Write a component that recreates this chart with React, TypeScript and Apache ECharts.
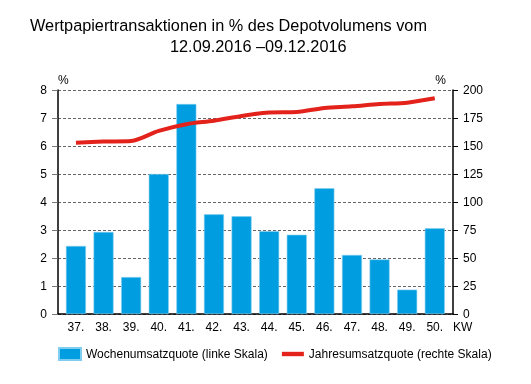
import React, { useEffect, useRef } from "react";
import * as echarts from "echarts";

const weeks = [37, 38, 39, 40, 41, 42, 43, 44, 45, 46, 47, 48, 49, 50];
const weeklyTurnover = [2.43, 2.93, 1.32, 5.0, 7.5, 3.56, 3.49, 2.96, 2.83, 4.49, 2.11, 1.95, 0.87, 3.06];
const annualTurnover = [153, 154, 154.5, 163.5, 169.5, 172.6, 176.8, 180, 180.4, 184, 185.4, 187.5, 188.7, 192.6];
const titleLine1 = "Wertpapiertransaktionen in % des Depotvolumens vom";
const titleLine2 = "12.09.2016 \u201309.12.2016";
const barName = "Wochenumsatzquote (linke Skala)";
const lineName = "Jahresumsatzquote (rechte Skala)";

const FONT = "Liberation Sans, Arial, sans-serif";

export default function App() {
  const ref = useRef<HTMLDivElement>(null);
  useEffect(() => {
    if (!ref.current) return;
    const chart = echarts.init(ref.current, undefined, { renderer: "svg" });
    chart.setOption({
      animation: false,
      textStyle: { fontFamily: FONT, color: "#000" },
      title: [
        { text: titleLine1, left: 30, top: 17, padding: 0, textStyle: { fontSize: 16.3, fontWeight: "normal", color: "#000", fontFamily: FONT } },
        { text: titleLine2, left: 170, top: 38, padding: 0, textStyle: { fontSize: 16.3, fontWeight: "normal", color: "#000", fontFamily: FONT } },
      ],
      legend: {
        left: 58,
        top: 347,
        padding: 0,
        itemWidth: 22,
        itemHeight: 12,
        itemGap: 14,
        textStyle: { fontSize: 12, color: "#000", fontFamily: FONT },
        data: [
          { name: barName, icon: "rect" },
          { name: lineName, icon: "path://M0,0 L20,0 L20,4 L0,4 Z", itemStyle: { color: "#e3231b" } },
        ],
      },
      grid: { left: 58, right: 78, top: 90, bottom: 70 },
      xAxis: {
        type: "value",
        min: 36.35,
        max: 50.66,
        name: "KW",
        nameLocation: "end",
        nameGap: 0,
        nameTextStyle: { fontSize: 12, color: "#000", verticalAlign: "top", padding: [7, 0, 0, 0] },
        axisLine: { show: true, lineStyle: { color: "#000", width: 1.5 } },
        axisTick: { show: false },
        splitLine: { show: false },
        axisLabel: {
          customValues: weeks,
          formatter: (v: number) => `${v}.`,
          fontSize: 12,
          color: "#000",
          margin: 7,
        },
      },
      yAxis: [
        {
          type: "value",
          min: 0,
          max: 8,
          interval: 1,
          name: "%",
          nameLocation: "end",
          nameGap: 4,
          nameTextStyle: { fontSize: 12, color: "#000", align: "left", padding: [0, 0, 0, 0] },
          axisLine: { show: true, lineStyle: { color: "#000", width: 1.5 } },
          axisTick: { show: true, length: 6, lineStyle: { color: "#777" } },
          axisLabel: { fontSize: 12, color: "#000", margin: 11 },
          splitLine: { show: true, lineStyle: { color: "#666", type: [3, 2] } },
        },
        {
          type: "value",
          min: 0,
          max: 200,
          interval: 25,
          position: "right",
          name: "%",
          nameLocation: "end",
          nameGap: 4,
          nameTextStyle: { fontSize: 12, color: "#000", align: "right", padding: [0, 7, 0, 0] },
          axisLine: { show: true, lineStyle: { color: "#000", width: 1.5 } },
          axisTick: { show: true, length: 5, lineStyle: { color: "#000" } },
          axisLabel: { fontSize: 12, color: "#000", margin: 10 },
          splitLine: { show: false },
        },
      ],
      series: [
        {
          name: barName,
          type: "bar",
          yAxisIndex: 0,
          barWidth: 20,
          itemStyle: { color: "#009ee0", borderColor: "#7fcdf0", borderWidth: 0.6 },
          data: weeks.map((w, i) => [w, weeklyTurnover[i]]),
        },
        {
          name: lineName,
          type: "line",
          yAxisIndex: 1,
          smooth: 0.3,
          symbol: "none",
          lineStyle: { color: "#e3231b", width: 4 },
          itemStyle: { color: "#e3231b" },
          data: weeks.map((w, i) => [w, annualTurnover[i]]),
        },
      ],
    });
    return () => chart.dispose();
  }, []);
  return <div ref={ref} style={{ position: "fixed", left: 0, top: 0, width: 531, height: 384 }} />;
}
